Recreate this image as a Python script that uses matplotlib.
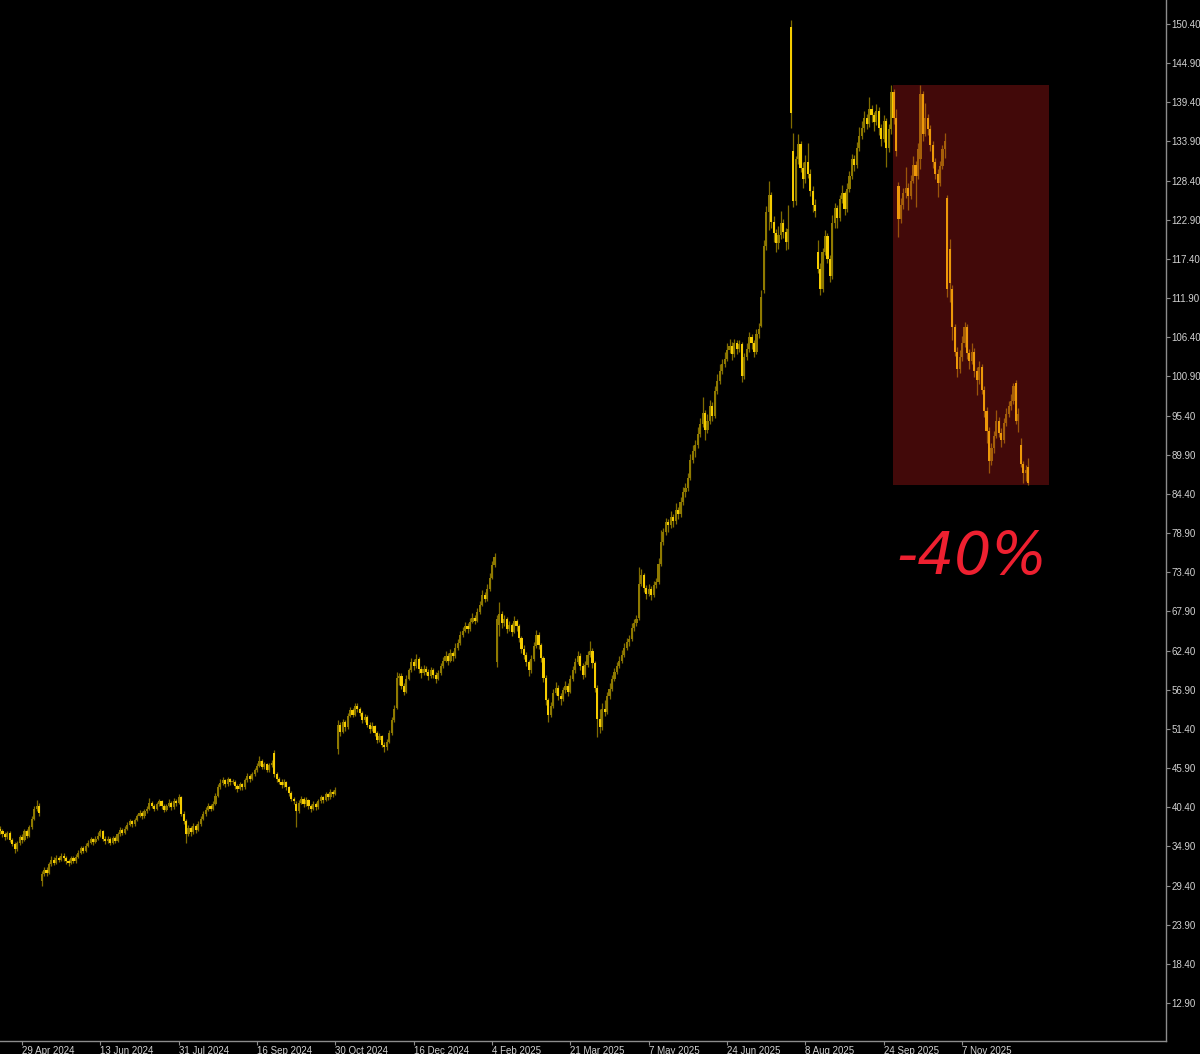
import matplotlib
matplotlib.use("Agg")
import matplotlib.pyplot as plt
from matplotlib.patches import Rectangle

# daily bars, oldest first
opens = [
    37.4, 37.0, 36.6, 36.2, 36.8, 35.8, 35.2, 34.5, 35.4, 36.2,
    35.8, 37.0, 36.4, 37.6, 38.8, 40.2, 40.6, 30.0, 31.0, 31.6,
    31.2, 32.4, 33.0, 32.6, 33.3, 33.0, 33.6, 33.2, 32.8, 32.6,
    33.2, 32.8, 33.4, 34.0, 34.6, 34.3, 35.0, 35.4, 35.9, 35.5,
    36.0, 36.4, 37.0, 36.0, 35.6, 36.0, 35.4, 36.1, 35.7, 36.6,
    37.2, 36.8, 37.4, 37.9, 38.4, 38.0, 38.6, 39.2, 39.6, 39.1,
    39.8, 40.2, 41.0, 40.6, 40.2, 40.8, 41.2, 40.5, 40.0, 40.6,
    41.0, 40.4, 41.3, 41.0, 41.8, 39.5, 38.4, 36.6, 37.5, 36.9,
    37.8, 37.2, 38.0, 38.8, 39.4, 40.0, 40.6, 40.2, 40.9, 42.0,
    43.2, 43.8, 44.2, 43.6, 44.3, 43.9, 44.0, 43.4, 43.0, 43.6,
    43.2, 44.2, 44.8, 44.4, 45.0, 45.6, 46.2, 46.9, 46.0, 46.4,
    45.6, 46.3, 48.0, 45.0, 44.4, 44.0, 43.5, 43.9, 43.2, 42.4,
    41.6, 40.9, 39.8, 41.0, 41.6, 40.8, 41.4, 40.6, 40.2, 40.9,
    40.4, 41.2, 41.8, 41.4, 42.2, 41.8, 42.6, 42.3, 48.6, 52.0,
    51.0, 52.4, 51.6, 53.2, 54.0, 53.4, 54.6, 54.2, 53.6, 52.6,
    53.0, 52.0, 51.4, 51.8, 50.8, 49.8, 50.4, 49.2, 48.8, 49.6,
    50.8, 52.6, 54.4, 58.6, 58.8, 57.4, 56.6, 58.4, 59.6, 60.8,
    60.2, 61.2, 59.8, 59.2, 59.8, 59.4, 58.8, 59.6, 59.0, 58.4,
    59.2, 60.2, 61.0, 61.6, 61.0, 62.0, 61.6, 62.8, 63.4, 64.6,
    65.2, 65.8, 65.4, 66.4, 67.0, 66.6, 67.8, 68.8, 70.2, 69.6,
    71.0, 72.6, 74.4, 60.8, 66.0, 67.6, 66.2, 66.8, 65.4, 66.0,
    65.0, 66.6, 65.8, 64.2, 62.6, 61.8, 60.8, 59.6, 61.2, 63.0,
    64.6, 63.2, 61.4, 58.6, 55.4, 53.4, 54.6, 56.4, 57.2, 56.0,
    55.6, 56.8, 57.4, 56.6, 58.4, 59.6, 60.8, 61.6, 60.2, 59.0,
    60.4, 61.8, 62.4, 60.6, 57.2, 52.8, 51.6, 54.2, 53.8, 56.0,
    57.0, 58.4, 59.4, 60.2, 61.0, 61.8, 62.8, 63.6, 64.0, 65.6,
    66.2, 67.0, 71.8, 73.0, 71.2, 70.4, 71.0, 70.2, 71.6, 72.0,
    74.6, 77.6, 79.0, 80.4, 80.0, 81.2, 80.6, 82.2, 81.6, 83.2,
    84.6, 85.2, 86.6, 89.2, 90.4, 91.2, 92.8, 94.2, 95.8, 93.4,
    94.6, 96.8, 95.4, 98.8, 100.2, 101.6, 102.6, 103.4, 104.6, 105.2,
    104.0, 105.6, 104.8, 105.4, 101.0, 103.6, 104.8, 106.4, 105.6, 104.4,
    106.8, 108.0, 113.0, 119.2, 124.0, 126.4, 122.6, 121.0, 119.6, 120.8,
    122.4, 121.2, 119.8, 150.0, 132.6, 125.6, 131.4, 133.6, 130.2, 128.6,
    131.0, 129.4, 127.0, 125.0, 118.4, 116.0, 113.2, 118.4, 120.6, 117.4,
    115.0, 122.4, 124.6, 123.2, 125.8, 126.6, 124.4, 127.2, 129.0, 131.4,
    130.6, 133.0, 134.6, 135.8, 137.2, 136.4, 138.4, 137.6, 136.6, 138.2,
    135.8, 134.2, 136.8, 133.0, 135.6, 140.8, 137.2, 127.6, 123.0, 125.0,
    126.6, 127.4, 126.2, 128.4, 130.6, 129.0, 131.4, 140.6, 135.0, 137.2,
    135.6, 133.4, 131.0, 129.4, 128.0, 130.4, 132.8, 126.0, 118.8, 113.2,
    107.8, 104.4, 102.0, 103.6, 105.6, 107.8, 104.2, 103.0, 104.4, 101.6,
    100.4, 102.2, 99.0, 96.0, 93.2, 89.0, 90.8, 92.6, 94.6, 93.0,
    92.0, 94.4, 95.6, 96.8, 97.4, 100.0, 94.6, 91.2, 88.6, 87.4,
    88.2,
]
highs = [
    37.8, 37.3, 36.9, 37.1, 37.0, 36.1, 35.5, 35.7, 36.5, 36.6,
    37.3, 37.4, 37.9, 39.2, 40.6, 41.4, 41.0, 31.4, 32.0, 32.0,
    32.7, 33.5, 33.4, 33.7, 33.6, 34.0, 33.9, 33.5, 33.1, 33.5,
    33.5, 33.8, 34.4, 35.0, 34.9, 35.3, 35.8, 36.2, 36.1, 36.3,
    36.9, 37.3, 37.2, 36.3, 36.4, 36.2, 36.4, 36.3, 36.9, 37.6,
    37.5, 37.7, 38.3, 38.8, 38.6, 38.9, 39.5, 40.0, 39.8, 40.1,
    40.6, 41.7, 41.3, 40.9, 41.1, 41.5, 41.4, 40.8, 40.9, 41.5,
    41.2, 41.7, 41.6, 42.2, 42.0, 39.8, 38.7, 37.9, 37.8, 38.2,
    38.1, 38.4, 39.2, 39.8, 40.4, 41.0, 40.9, 41.2, 42.4, 43.6,
    44.3, 44.6, 44.4, 44.6, 44.5, 44.4, 44.2, 43.7, 43.9, 43.8,
    44.5, 45.2, 45.0, 45.3, 45.9, 46.6, 47.6, 47.1, 46.8, 46.6,
    46.6, 47.0, 48.4, 45.3, 44.7, 44.3, 44.3, 44.1, 43.4, 42.7,
    41.9, 41.2, 41.4, 42.0, 41.9, 41.8, 41.6, 40.9, 41.2, 41.1,
    41.5, 42.1, 42.0, 42.5, 42.4, 42.9, 42.8, 43.2, 52.6, 52.4,
    52.8, 52.7, 53.6, 54.5, 54.3, 55.0, 55.1, 54.5, 53.9, 53.5,
    53.3, 52.4, 52.3, 52.0, 51.1, 50.8, 50.6, 49.5, 50.0, 51.2,
    53.0, 54.8, 59.4, 59.3, 59.2, 57.8, 58.9, 60.0, 61.4, 61.2,
    61.9, 61.5, 60.2, 60.4, 60.2, 59.8, 60.1, 60.0, 59.4, 59.7,
    60.7, 61.5, 62.4, 62.0, 62.6, 62.4, 63.4, 64.0, 65.2, 65.7,
    66.4, 66.2, 67.0, 67.7, 67.4, 68.4, 69.4, 70.9, 70.6, 71.7,
    73.3, 75.0, 76.1, 67.4, 69.2, 67.9, 67.4, 67.1, 66.5, 66.3,
    67.3, 66.9, 66.1, 64.5, 63.2, 62.2, 61.1, 61.8, 63.6, 65.3,
    65.0, 63.5, 61.7, 59.0, 55.8, 55.2, 57.0, 58.0, 57.5, 56.4,
    57.3, 58.1, 57.8, 58.9, 60.2, 61.4, 62.3, 62.0, 60.6, 61.0,
    62.3, 63.8, 62.8, 61.0, 57.6, 54.2, 55.0, 55.4, 56.6, 57.8,
    58.9, 59.9, 60.8, 61.6, 62.5, 63.4, 64.2, 64.6, 66.2, 66.8,
    67.4, 74.1, 73.8, 73.3, 71.6, 71.8, 71.4, 72.2, 72.6, 75.4,
    79.3, 79.6, 81.0, 80.9, 82.0, 81.6, 83.1, 82.6, 84.0, 85.4,
    86.0, 87.4, 90.0, 91.2, 92.0, 93.8, 95.0, 98.0, 96.2, 95.6,
    97.6, 97.3, 99.6, 101.2, 102.6, 103.4, 104.4, 105.6, 106.1, 105.7,
    106.2, 106.0, 106.0, 105.8, 104.2, 105.6, 107.2, 106.9, 106.0, 107.6,
    108.4, 113.0, 120.0, 124.8, 128.4, 126.8, 123.4, 121.6, 122.0, 124.2,
    123.0, 121.8, 125.0, 151.0, 135.1, 131.8, 135.0, 134.0, 131.0, 132.0,
    133.7, 130.0, 127.6, 125.8, 120.0, 116.8, 119.0, 121.5, 121.0, 118.0,
    123.6, 125.2, 125.0, 126.4, 127.8, 127.0, 128.0, 129.8, 132.2, 132.0,
    133.8, 135.9, 136.8, 138.2, 137.8, 140.1, 139.0, 138.0, 139.2, 138.7,
    136.4, 137.6, 137.2, 136.4, 141.8, 141.2, 138.4, 128.2, 126.0, 127.4,
    130.3, 128.0, 129.2, 131.8, 131.2, 133.7, 141.8, 141.0, 139.3, 137.8,
    136.2, 134.0, 131.6, 130.0, 131.2, 133.4, 135.1, 126.4, 120.2, 113.8,
    108.2, 105.0, 104.6, 106.6, 108.5, 108.2, 104.8, 105.6, 104.9, 102.2,
    103.0, 102.6, 99.6, 96.6, 93.8, 91.6, 93.2, 96.2, 95.2, 93.6,
    95.0, 96.4, 97.4, 98.4, 100.0, 100.4, 96.5, 92.3, 89.0, 88.4,
    89.4,
]
lows = [
    36.7, 36.2, 35.8, 36.0, 35.5, 34.9, 34.0, 34.3, 35.1, 35.4,
    35.6, 36.1, 36.2, 37.4, 38.6, 39.9, 39.2, 29.4, 30.7, 30.8,
    31.0, 32.2, 32.3, 32.4, 32.7, 32.8, 32.9, 32.4, 32.1, 32.4,
    32.5, 32.6, 33.2, 33.8, 34.0, 34.1, 34.8, 35.2, 35.1, 35.3,
    35.8, 36.2, 35.7, 35.2, 35.4, 35.1, 35.2, 35.3, 35.5, 36.4,
    36.5, 36.6, 37.2, 37.7, 37.6, 37.8, 38.4, 39.0, 38.8, 38.9,
    39.6, 40.0, 40.3, 39.8, 40.0, 40.6, 40.2, 39.7, 39.8, 40.4,
    40.0, 40.2, 40.6, 40.8, 39.2, 38.0, 35.4, 36.3, 36.4, 36.7,
    36.8, 37.0, 37.8, 38.6, 39.2, 39.8, 39.8, 40.0, 40.7, 41.8,
    43.0, 43.5, 43.2, 43.4, 43.5, 43.6, 43.0, 42.5, 42.8, 42.8,
    43.0, 44.0, 44.0, 44.2, 44.8, 45.4, 46.0, 45.7, 45.8, 45.3,
    45.4, 46.1, 44.6, 44.0, 43.6, 43.1, 43.3, 42.8, 42.0, 41.2,
    40.8, 37.6, 39.6, 40.8, 40.4, 40.6, 40.2, 39.7, 40.0, 40.0,
    40.2, 41.0, 41.0, 41.2, 41.4, 41.6, 41.9, 42.1, 47.8, 50.4,
    50.8, 51.1, 51.4, 53.0, 53.0, 53.2, 53.8, 53.2, 52.2, 52.3,
    51.6, 50.8, 51.1, 50.4, 49.4, 49.5, 48.8, 48.1, 48.5, 49.4,
    50.6, 52.4, 54.2, 57.6, 57.0, 56.2, 56.4, 58.2, 59.4, 59.7,
    60.0, 59.3, 58.6, 59.0, 58.9, 58.2, 58.6, 58.6, 57.8, 58.2,
    59.0, 60.0, 60.8, 60.4, 60.8, 61.0, 61.4, 62.5, 63.2, 64.3,
    65.0, 64.8, 65.2, 66.2, 66.1, 66.4, 67.6, 68.6, 69.2, 69.4,
    70.8, 72.4, 74.2, 60.1, 64.4, 65.6, 65.8, 64.8, 65.1, 64.4,
    64.8, 65.2, 63.6, 62.0, 61.2, 60.2, 58.8, 59.2, 60.9, 62.7,
    62.6, 60.8, 58.0, 54.8, 52.4, 53.0, 54.3, 56.1, 55.4, 54.8,
    55.3, 56.5, 56.0, 56.4, 58.1, 59.3, 60.5, 59.7, 58.4, 58.7,
    60.1, 61.5, 60.0, 56.6, 50.3, 50.8, 51.2, 53.2, 53.5, 55.6,
    56.7, 58.1, 59.1, 59.9, 60.7, 61.5, 62.5, 63.0, 63.7, 65.2,
    65.8, 66.7, 71.4, 70.6, 69.6, 70.0, 69.5, 69.9, 71.2, 71.8,
    74.3, 77.2, 78.6, 79.0, 79.6, 79.8, 80.2, 80.9, 81.2, 82.8,
    84.0, 84.8, 86.3, 88.8, 89.6, 90.8, 92.4, 93.8, 92.0, 93.0,
    94.2, 94.6, 95.1, 98.4, 99.8, 101.2, 102.2, 103.0, 104.2, 103.2,
    103.6, 104.0, 104.3, 100.1, 100.6, 103.2, 104.4, 104.8, 103.6, 104.0,
    106.3, 107.8, 112.6, 118.6, 121.5, 121.8, 119.8, 118.4, 118.8, 120.2,
    120.4, 118.6, 118.8, 135.8, 124.7, 125.0, 130.8, 129.6, 127.4, 128.0,
    128.8, 126.2, 124.0, 123.3, 115.4, 112.3, 112.8, 118.0, 116.8, 114.2,
    114.6, 121.8, 121.8, 122.8, 125.2, 123.6, 124.0, 126.8, 128.6, 129.8,
    130.2, 132.6, 134.2, 135.2, 135.6, 136.0, 136.6, 135.4, 136.2, 134.8,
    133.2, 133.8, 130.3, 132.4, 135.0, 136.4, 131.8, 120.5, 122.4, 124.4,
    126.0, 124.3, 125.8, 128.0, 124.7, 128.6, 130.0, 134.0, 134.6, 134.8,
    132.6, 130.2, 128.6, 126.1, 127.6, 130.0, 131.6, 112.1, 111.4, 106.0,
    103.8, 100.8, 101.4, 103.0, 105.0, 103.4, 102.0, 102.6, 100.8, 98.3,
    99.8, 98.4, 95.2, 91.6, 87.3, 88.4, 90.2, 92.2, 92.4, 91.0,
    91.6, 94.0, 95.2, 96.2, 97.0, 94.2, 93.1, 88.2, 86.0, 86.2,
    85.6,
]
closes = [
    37.0, 36.6, 36.2, 36.8, 35.8, 35.2, 34.5, 35.4, 36.2, 35.8,
    37.0, 36.4, 37.6, 38.8, 40.2, 40.6, 39.6, 31.0, 31.6, 31.2,
    32.4, 33.0, 32.6, 33.3, 33.0, 33.6, 33.2, 32.8, 32.6, 33.2,
    32.8, 33.4, 34.0, 34.6, 34.3, 35.0, 35.4, 35.9, 35.5, 36.0,
    36.4, 37.0, 36.0, 35.6, 36.0, 35.4, 36.1, 35.7, 36.6, 37.2,
    36.8, 37.4, 37.9, 38.4, 38.0, 38.6, 39.2, 39.6, 39.1, 39.8,
    40.2, 41.0, 40.6, 40.2, 40.8, 41.2, 40.5, 40.0, 40.6, 41.0,
    40.4, 41.3, 41.0, 41.8, 39.5, 38.4, 36.6, 37.5, 36.9, 37.8,
    37.2, 38.0, 38.8, 39.4, 40.0, 40.6, 40.2, 40.9, 42.0, 43.2,
    43.8, 44.2, 43.6, 44.3, 43.9, 44.0, 43.4, 43.0, 43.6, 43.2,
    44.2, 44.8, 44.4, 45.0, 45.6, 46.2, 46.9, 46.0, 46.4, 45.6,
    46.3, 46.6, 45.0, 44.4, 44.0, 43.5, 43.9, 43.2, 42.4, 41.6,
    41.2, 39.8, 41.0, 41.6, 40.8, 41.4, 40.6, 40.2, 40.9, 40.4,
    41.2, 41.8, 41.4, 42.2, 41.8, 42.6, 42.3, 42.8, 52.0, 51.0,
    52.4, 51.6, 53.2, 54.0, 53.4, 54.6, 54.2, 53.6, 52.6, 53.0,
    52.0, 51.4, 51.8, 50.8, 49.8, 50.4, 49.2, 48.8, 49.6, 50.8,
    52.6, 54.2, 58.6, 58.8, 57.4, 56.6, 58.4, 59.6, 60.8, 60.2,
    61.2, 59.8, 59.2, 59.8, 59.4, 58.8, 59.6, 59.0, 58.4, 59.2,
    60.2, 61.0, 61.6, 61.0, 62.0, 61.6, 62.8, 63.4, 64.6, 65.2,
    65.8, 65.4, 66.4, 67.0, 66.6, 67.8, 68.8, 70.2, 69.6, 71.0,
    72.6, 74.4, 75.6, 66.8, 67.6, 66.2, 66.8, 65.4, 66.0, 65.0,
    66.6, 65.8, 64.2, 62.6, 61.8, 60.8, 59.6, 61.2, 63.0, 64.6,
    63.2, 61.4, 58.6, 55.4, 53.4, 54.6, 56.4, 57.2, 56.0, 55.6,
    56.8, 57.4, 56.6, 58.4, 59.6, 60.8, 61.6, 60.2, 59.0, 60.4,
    61.8, 62.4, 60.6, 57.2, 52.8, 51.6, 54.2, 53.8, 56.0, 57.0,
    58.4, 59.4, 60.2, 61.0, 61.8, 62.8, 63.6, 64.0, 65.6, 66.2,
    66.8, 71.8, 73.0, 71.2, 70.4, 71.0, 70.2, 71.6, 72.0, 74.6,
    77.6, 79.0, 80.4, 80.0, 81.2, 80.6, 82.2, 81.6, 83.2, 84.6,
    85.2, 86.6, 89.2, 90.4, 91.2, 92.8, 94.2, 95.8, 93.4, 94.6,
    96.8, 95.4, 98.8, 100.2, 101.6, 102.6, 103.4, 104.6, 105.2, 104.0,
    105.6, 104.8, 105.4, 101.0, 103.6, 104.8, 106.4, 105.6, 104.4, 106.8,
    107.6, 112.0, 119.2, 124.0, 126.4, 122.6, 121.0, 119.6, 120.8, 122.4,
    121.2, 119.8, 121.6, 137.9, 125.6, 131.4, 133.6, 130.2, 128.6, 131.0,
    129.4, 127.0, 125.0, 124.2, 116.0, 113.2, 118.4, 120.6, 117.4, 115.0,
    122.4, 124.6, 123.2, 125.8, 126.6, 124.4, 127.2, 129.0, 131.4, 130.6,
    133.0, 134.6, 135.8, 137.2, 136.4, 138.4, 137.6, 136.6, 138.2, 135.8,
    134.2, 136.8, 133.0, 135.6, 140.8, 137.2, 132.6, 123.0, 125.0, 126.6,
    127.4, 126.2, 128.4, 130.6, 129.0, 132.8, 140.6, 135.0, 137.2, 135.6,
    133.4, 131.0, 129.4, 128.0, 130.4, 132.8, 134.0, 113.2, 114.0, 107.8,
    104.4, 102.0, 103.6, 105.6, 107.8, 104.2, 103.0, 104.4, 101.6, 100.4,
    102.2, 99.0, 96.0, 93.2, 89.0, 90.8, 92.6, 94.6, 93.0, 92.0,
    94.4, 95.6, 96.8, 97.4, 99.6, 94.6, 95.6, 88.6, 87.4, 87.8,
    86.0,
]

date_labels = ["29 Apr 2024", "13 Jun 2024", "31 Jul 2024", "16 Sep 2024",
               "30 Oct 2024", "16 Dec 2024", "4 Feb 2025", "21 Mar 2025",
               "7 May 2025", "24 Jun 2025", "8 Aug 2025", "24 Sep 2025",
               "7 Nov 2025"]
date_label_bars = [9, 41, 73, 105, 137, 169, 201, 233, 265, 297, 329, 361, 393]

price_ticks = [12.90, 18.40, 23.90, 29.40, 34.90, 40.40, 45.90, 51.40, 56.90,
               62.40, 67.90, 73.40, 78.90, 84.40, 89.90, 95.40, 100.90, 106.40,
               111.90, 117.40, 122.90, 128.40, 133.90, 139.40, 144.90, 150.40]

# the drawdown box starts at this bar
box_start = 364

# colours
bg = "black"
axis_col = "#8c8c8c"
label_col = "#d2d2d2"
wick_col = "#806c00"
bull_col = "#8f7a00"
bear_col = "#f5cc00"

fig = plt.figure(figsize=(12, 10.54), dpi=100, facecolor=bg)
ax = fig.add_axes([0, 13 / 1054, 1166 / 1200, 1041 / 1054])
ax.set_facecolor(bg)

n = len(closes)
xs = list(range(n))

ax.vlines(xs, lows, highs, colors=wick_col, linewidth=0.9, zorder=2)

bottoms = [min(o, c) for o, c in zip(opens, closes)]
heights = [max(abs(c - o), 0.15) for o, c in zip(opens, closes)]
body_cols = [bull_col if c >= o else bear_col for o, c in zip(opens, closes)]
ax.bar(xs, heights, bottom=bottoms, width=0.88, color=body_cols,
       linewidth=0, zorder=2)

# translucent red box over the last leg
box_top = max(highs[box_start:])
box_bottom = min(lows[box_start:])
ax.add_patch(Rectangle((box_start + 0.8, box_bottom), 63.7, box_top - box_bottom,
                       facecolor="#dc2121", alpha=0.3, linewidth=0, zorder=3))

ax.text(366.2, 73.2, "-40%", color="#ee2030", fontsize=42,
        family="DejaVu Sans", fontstyle="italic", va="baseline", zorder=4)

ax.set_xlim(0.0, 476.3)
ax.set_ylim(7.56, 153.77)

for side in ["top", "left"]:
    ax.spines[side].set_visible(False)
for side in ["right", "bottom"]:
    ax.spines[side].set_color(axis_col)
    ax.spines[side].set_linewidth(1.0)

ax.yaxis.tick_right()
ax.set_yticks(price_ticks)
ax.set_yticklabels([f"{p:.2f}" for p in price_ticks])
ax.tick_params(axis="y", direction="out", length=3, width=0.8, color=axis_col,
               labelcolor=label_col, labelsize=7, pad=1)

ax.set_xticks(date_label_bars)
ax.set_xticklabels(date_labels, ha="left")
ax.tick_params(axis="x", direction="out", length=3, width=0.8, color=axis_col,
               labelcolor=label_col, labelsize=7, pad=0.5)
for lbl in ax.get_xticklabels() + ax.get_yticklabels():
    lbl.set_family("Liberation Sans")

fig.savefig("out.png", dpi=100, facecolor=bg)
